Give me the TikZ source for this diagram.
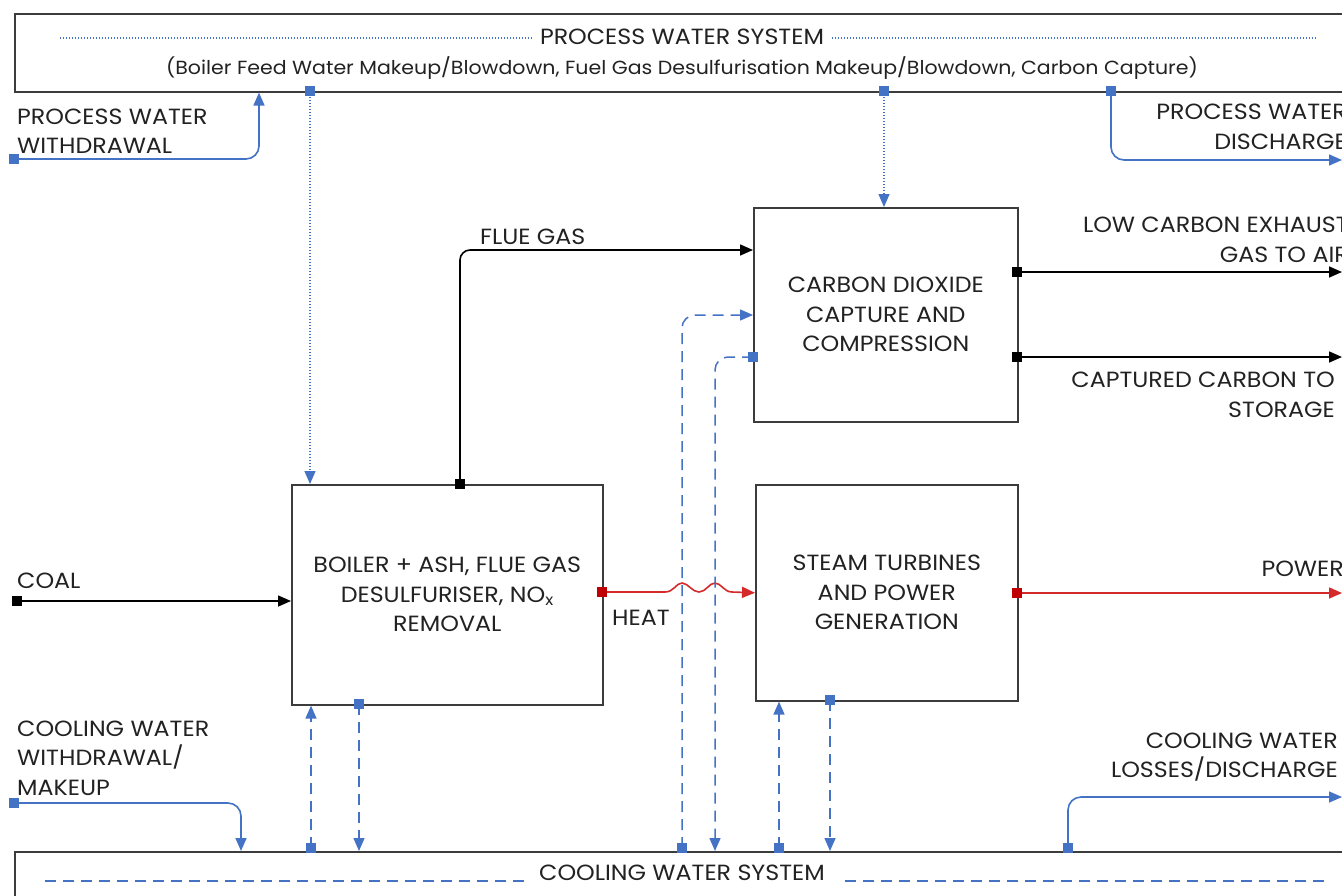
\documentclass[tikz,border=0pt]{standalone}
\usepackage{fontspec}
\setmainfont{Poppins}[FakeStretch=1.08]
\usetikzlibrary{arrows.meta}
\definecolor{bl}{HTML}{4472C4}
\definecolor{rd}{HTML}{D42A2A}
\definecolor{rdsq}{HTML}{C00000}
\definecolor{bx}{HTML}{3C3C3C}
\definecolor{tx}{HTML}{222222}
\begin{document}
\begin{tikzpicture}[x=1pt,y=-1pt,
  box/.style={draw=bx,line width=1.6pt,rectangle,inner sep=0pt,align=center,text=tx,font=\fontsize{22}{29.5}\selectfont},
  lbl/.style={inner sep=0pt,text=tx,font=\fontsize{22}{29.5}\selectfont},
  sublbl/.style={inner sep=0pt,text=tx,font=\fontsize{19}{22}\selectfont},
  bsq/.style={rectangle,fill=bl,minimum size=9pt,inner sep=0pt},
  ksq/.style={rectangle,fill=black,minimum size=9pt,inner sep=0pt},
  rsq/.style={rectangle,fill=rdsq,minimum size=10pt,inner sep=0pt},
  tip/.style={-{Triangle[length=13pt,width=11pt]}},
  bline/.style={draw=bl,line width=1.6pt,rounded corners=13pt},
  kline/.style={draw=black,line width=1.6pt,rounded corners=10pt},
  rline/.style={draw=rd,line width=1.6pt},
  dashline/.style={draw=bl,line width=1.5pt,dash pattern=on 11pt off 7pt,rounded corners=13pt},
  dotline/.style={draw=bl,line width=1.3pt,dash pattern=on 1.3pt off 1.7pt},
]
\useasboundingbox (0,0) rectangle (1342,895);
\clip (0,0) rectangle (1342,895);
\fill[white] (0,0) rectangle (1342,895);

% ---------- system boxes ----------
\node[box,minimum width=1420pt,minimum height=78pt,anchor=north west] (pws) at (14,13) {};
\node[box,minimum width=1420pt,minimum height=80pt,anchor=north west] (cws) at (14,851) {};

\node[lbl] (pwst) at (682,37) {PROCESS WATER SYSTEM};
\node[sublbl] (pwss) at (682,68) {(Boiler Feed Water Makeup/Blowdown, Fuel Gas Desulfurisation Makeup/Blowdown, Carbon Capture)};
\draw[dotline] (60,38) -- ([xshift=-8pt]pwst.west |- 0,38);
\draw[dotline] ([xshift=8pt]pwst.east |- 0,38) -- (1318,38);

\node[lbl] (cwst) at (682,873) {COOLING WATER SYSTEM};
\draw[dashline] (45,881) -- ([xshift=-12pt]cwst.west |- 0,881);
\draw[dashline] ([xshift=20pt]cwst.east |- 0,881) -- (1330,881);

% ---------- process boxes ----------
\node[box,minimum width=311pt,minimum height=220pt,anchor=north west] (boiler) at (291,484)
  {BOILER + ASH, FLUE GAS\\DESULFURISER, NO\textsubscript{x}\\REMOVAL};
\node[box,minimum width=264pt,minimum height=214pt,anchor=north west] (co2) at (753,207)
  {CARBON DIOXIDE\\CAPTURE AND\\COMPRESSION};
\node[box,minimum width=262pt,minimum height=216pt,anchor=north west] (steam) at (755,484)
  {STEAM TURBINES\\AND POWER\\GENERATION};

% ---------- labels ----------
\node[lbl,anchor=west,align=left] (pwwl) at (17,131) {PROCESS WATER\\WITHDRAWAL};
\node[lbl,anchor=east,align=right] (pwdl) at (1347,127) {PROCESS WATER\\DISCHARGE};
\node[lbl,anchor=east,align=right] (lcel) at (1349,240) {LOW CARBON EXHAUST\\GAS TO AIR};
\node[lbl,anchor=east,align=right] (ccsl) at (1335,395) {CAPTURED CARBON TO\\STORAGE};
\node[lbl,anchor=west] (fgl) at (480,237) {FLUE GAS};
\node[lbl,anchor=west] (coall) at (17,581) {COAL};
\node[lbl,anchor=west] (heatl) at (612,618) {HEAT};
\node[lbl,anchor=east] (powl) at (1344,569) {POWER};
\node[lbl,anchor=west,align=left] (cwwl) at (17,758) {COOLING WATER\\WITHDRAWAL/\\MAKEUP};
\node[lbl,anchor=east,align=right] (cwll) at (1338,757) {COOLING WATER\\LOSSES/DISCHARGE};

% ---------- markers ----------
\node[bsq] (pwwm) at (14,159) {};
\node[bsq] (pwb1) at (310,91) {};
\node[bsq] (pwb2) at (884,91) {};
\node[bsq] (pwb3) at (1111,91) {};
\node[ksq] (fgm) at (460,484) {};
\node[ksq] (lcem) at (1017,272) {};
\node[ksq] (ccsm) at (1017,357) {};
\node[ksq] (coalm) at (17,601) {};
\node[rsq] (heatm) at (602,592) {};
\node[rsq] (powm) at (1017,593) {};
\node[bsq] (co2m) at (753,357) {};
\node[bsq] (cwwm) at (14,803) {};
\node[bsq] (bcm) at (359,704) {};
\node[bsq] (scm) at (830,700) {};
\node[bsq] (cwb1) at (311,848) {};
\node[bsq] (cwb2) at (682,848) {};
\node[bsq] (cwb3) at (779,848) {};
\node[bsq] (cwb4) at (1068,848) {};

% free ends
\coordinate (pwdend) at (1342,160);
\coordinate (lceend) at (1342,272);
\coordinate (ccsend) at (1342,357);
\coordinate (powend) at (1342,593);
\coordinate (cwlend) at (1342,797);

% ---------- connectors ----------
% process water
\draw[bline,tip] (pwwm.center) -| (259,0 |- pws.south);
\draw[dotline,tip] (pwb1.center) -- (310,0 |- boiler.north);
\draw[dotline,tip] (pwb2.center) -- (884,0 |- co2.north);
\draw[bline,tip] (pwb3.center) |- (pwdend);

% gas
\draw[kline,tip] (fgm.center) |- (co2.west |- 0,250);
\draw[kline,tip] (lcem.center) -- (lceend);
\draw[kline,tip] (ccsm.center) -- (ccsend);
\draw[kline,tip] (coalm.center) -- (boiler.west |- coalm);

% heat and power
\draw[rline,tip] (heatm.center) -- (665,592)
  .. controls (674,592) and (676,583) .. (682,583)
  .. controls (688,583) and (692,592) .. (699,592)
  .. controls (706,592) and (709,583) .. (715,583)
  .. controls (721,583) and (724,592) .. (732,592)
  -- (steam.west);
\draw[rline,tip] (powm.center) -- (powend);

% cooling water
\draw[bline,tip] (cwwm.center) -| (241,0 |- cws.north);
\draw[dashline,tip] (cwb1.center) -- (311,0 |- boiler.south);
\draw[dashline,tip] (bcm.center) -- (359,0 |- cws.north);
\draw[dashline,tip] (cwb2.center) |- (co2.west |- 0,315);
\draw[dashline,tip] (co2m.center) -| (715,0 |- cws.north);
\draw[dashline,tip] (cwb3.center) -- (779,0 |- steam.south);
\draw[dashline,tip] (scm.center) -- (830,0 |- cws.north);
\draw[bline,tip] (cwb4.center) |- (cwlend);

% redraw markers on top
\foreach \m in {pwwm,pwb1,pwb2,pwb3,co2m,cwwm,bcm,scm,cwb1,cwb2,cwb3,cwb4}{\fill[bl] (\m.south west) rectangle (\m.north east);}
\foreach \m in {fgm,lcem,ccsm,coalm}{\fill[black] (\m.south west) rectangle (\m.north east);}
\foreach \m in {heatm,powm}{\fill[rdsq] (\m.south west) rectangle (\m.north east);}
\end{tikzpicture}
\end{document}
